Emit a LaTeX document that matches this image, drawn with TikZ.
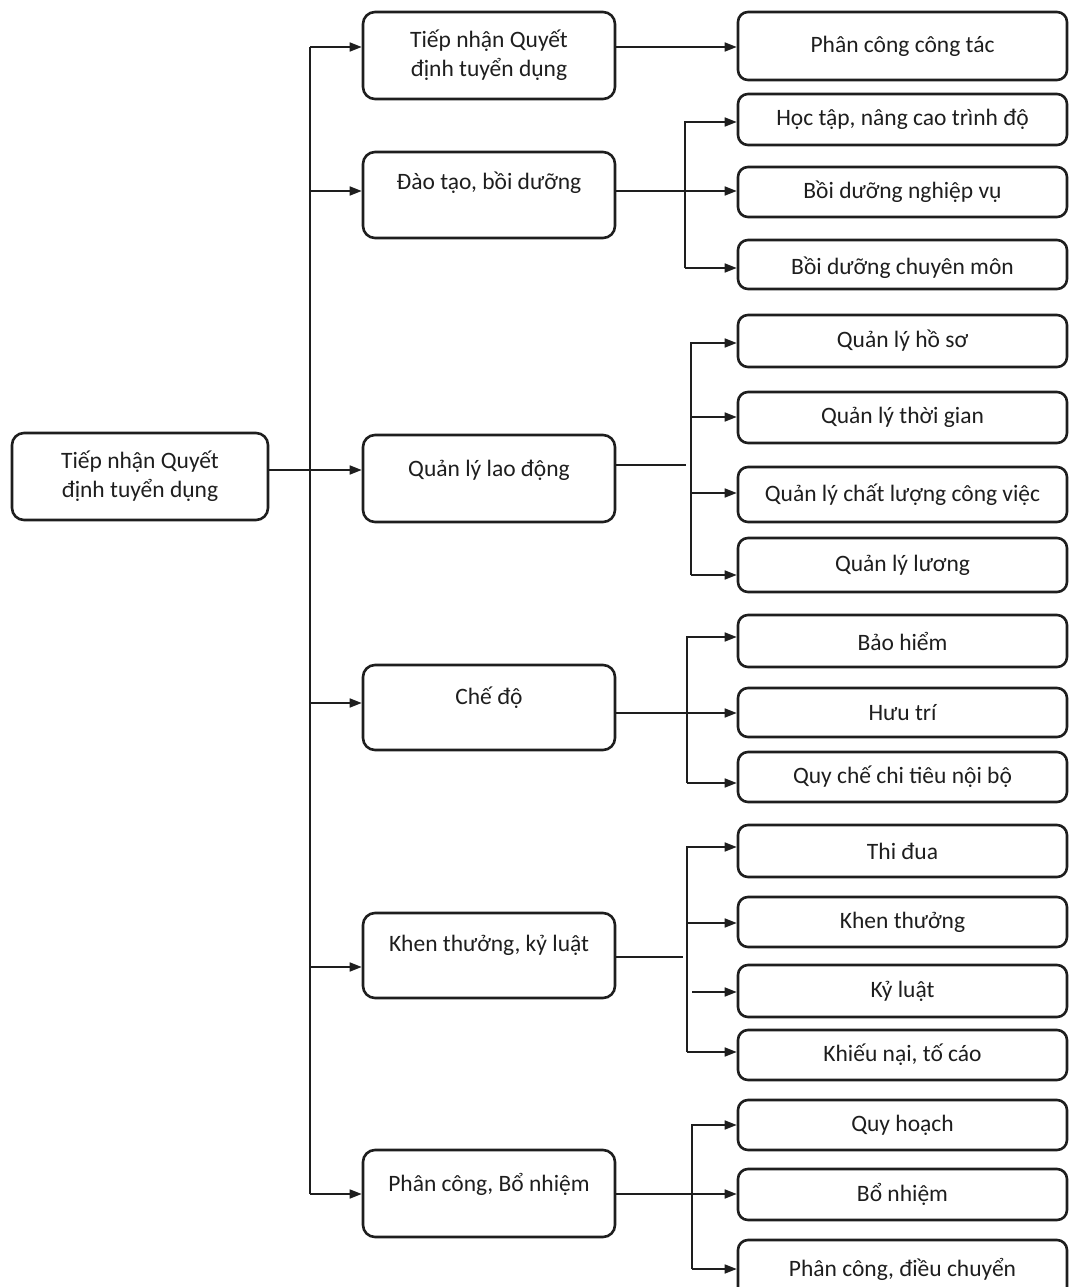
\documentclass[tikz,border=0pt]{standalone}
\usepackage{fontspec}
\setmainfont{Carlito}
\usetikzlibrary{arrows.meta}
\definecolor{ink}{HTML}{1E1E1E}
\newcommand\bigfs{\fontsize{23.5}{29}\selectfont}
\begin{document}
\begin{tikzpicture}[x=1pt,y=-1pt,
  basebox/.style={draw=ink, line width=2.6pt, fill=white, inner sep=0pt, align=center, font=\bigfs, text=ink},
  mbox/.style={basebox, rounded corners=12pt, minimum width=252pt, minimum height=86pt},
  rbox/.style={basebox, rounded corners=10pt, minimum width=329pt},
  lbl/.style={font=\bigfs, text=ink, inner sep=0pt},
  conn/.style={draw=ink, line width=1.6pt},
  arr/.style={conn, -{Triangle[length=12pt,width=9pt]}}]
\useasboundingbox (0,0) rectangle (1070,1287);
\clip (0,0) rectangle (1070,1287);

% left
\node[mbox, minimum width=256pt, minimum height=87pt] (L) at (140,476.5) {Tiếp nhận Quyết\\định tuyển dụng};

% middle column
\node[mbox, minimum height=87pt] (M1) at (489,55.5) {Tiếp nhận Quyết\\định tuyển dụng};
\node[mbox, label={[lbl,yshift=12pt]center:{Đào tạo, bồi dưỡng}}] (M2) at (489,195) {};
\node[mbox, minimum height=87pt, label={[lbl,yshift=8.5pt]center:{Quản lý lao động}}] (M3) at (489,478.5) {};
\node[mbox, minimum height=85pt, label={[lbl,yshift=9.5pt]center:{Chế độ}}] (M4) at (489,707.5) {};
\node[mbox, minimum height=85pt, label={[lbl,yshift=10.5pt]center:{Khen thưởng, kỷ luật}}] (M5) at (489,955.5) {};
\node[mbox, minimum height=87pt, label={[lbl,yshift=9.5pt]center:{Phân công, Bổ nhiệm}}] (M6) at (489,1193.5) {};

% right column
\node[rbox, minimum height=68pt] (R1) at (902.5,46) {Phân công công tác};
\node[rbox, minimum height=51pt] (R2) at (902.5,119.5) {Học tập, nâng cao trình độ};
\node[rbox, minimum height=50pt] (R3) at (902.5,192) {Bồi dưỡng nghiệp vụ};
\node[rbox, minimum height=49pt, label={[lbl,yshift=-3.5pt]center:{Bồi dưỡng chuyên môn}}] (R4) at (902.5,264.5) {};
\node[rbox, minimum height=52pt] (R5) at (902.5,341) {Quản lý hồ sơ};
\node[rbox, minimum height=51pt] (R6) at (902.5,417.5) {Quản lý thời gian};
\node[rbox, minimum height=55pt] (R7) at (902.5,494.5) {Quản lý chất lượng công việc};
\node[rbox, minimum height=54pt] (R8) at (902.5,565) {Quản lý lương};
\node[rbox, minimum height=52pt] (R9) at (902.5,641) {Bảo hiểm};
\node[rbox, minimum height=49pt] (R10) at (902.5,712.5) {Hưu trí};
\node[rbox, minimum height=50pt] (R11) at (902.5,777) {Quy chế chi tiêu nội bộ};
\node[rbox, minimum height=52pt] (R12) at (902.5,851) {Thi đua};
\node[rbox, minimum height=50pt] (R13) at (902.5,922) {Khen thưởng};
\node[rbox, minimum height=52pt] (R14) at (902.5,991) {Kỷ luật};
\node[rbox, minimum height=50pt] (R15) at (902.5,1055) {Khiếu nại, tố cáo};
\node[rbox, minimum height=50pt] (R16) at (902.5,1125) {Quy hoạch};
\node[rbox, minimum height=51pt] (R17) at (902.5,1194.5) {Bổ nhiệm};
\node[rbox, minimum height=60pt, label={[lbl,yshift=1pt]center:{Phân công, điều chuyển}}] (R18) at (902.5,1270) {};

% trunk
\coordinate (j1) at (310,47);
\coordinate (j2) at (310,191);
\coordinate (c3) at (310,470);
\coordinate (j4) at (310,703);
\coordinate (j5) at (310,967);
\coordinate (j6) at (310,1194);
\draw[conn] (j1) -- (j6);
\draw[arr] (j1) -- (M1.west |- j1);
\draw[arr] (j2) -- (M2.west |- j2);
\draw[arr] (L.east |- c3) -- (M3.west |- c3);
\draw[arr] (j4) -- (M4.west |- j4);
\draw[arr] (j5) -- (M5.west |- j5);
\draw[arr] (j6) -- (M6.west |- j6);

% branch 1
\coordinate (b1) at (700,47);
\draw[arr] (M1.east |- b1) -- (R1.west |- b1);

% branch 2
\coordinate (b2a) at (685,122);
\coordinate (b2m) at (685,191);
\coordinate (b2b) at (685,268);
\draw[arr] (M2.east |- b2m) -- (R3.west |- b2m);
\draw[arr] (b2b) -- (b2a) -- (R2.west |- b2a);
\draw[arr] (b2b) -- (R4.west |- b2b);

% branch 3
\coordinate (b3e) at (686,465);
\coordinate (b3a) at (691,343);
\coordinate (b3b) at (691,417);
\coordinate (b3c) at (691,493);
\coordinate (b3d) at (691,575);
\draw[conn] (M3.east |- b3e) -- (b3e);
\draw[arr] (b3d) -- (b3a) -- (R5.west |- b3a);
\draw[arr] (b3b) -- (R6.west |- b3b);
\draw[arr] (b3c) -- (R7.west |- b3c);
\draw[arr] (b3d) -- (R8.west |- b3d);

% branch 4
\coordinate (b4m) at (687,713);
\coordinate (b4a) at (687,637);
\coordinate (b4b) at (687,783);
\draw[arr] (M4.east |- b4m) -- (R10.west |- b4m);
\draw[arr] (b4b) -- (b4a) -- (R9.west |- b4a);
\draw[arr] (b4b) -- (R11.west |- b4b);

% branch 5
\coordinate (b5e) at (683,957);
\coordinate (b5a) at (687,847);
\coordinate (b5b) at (687,923);
\coordinate (b5c) at (692,992);
\coordinate (b5d) at (687,1052);
\draw[conn] (M5.east |- b5e) -- (b5e);
\draw[arr] (b5d) -- (b5a) -- (R12.west |- b5a);
\draw[arr] (b5b) -- (R13.west |- b5b);
\draw[arr] (b5c) -- (R14.west |- b5c);
\draw[arr] (b5d) -- (R15.west |- b5d);

% branch 6
\coordinate (b6m) at (692,1194);
\coordinate (b6a) at (692,1125);
\coordinate (b6b) at (692,1269);
\draw[arr] (M6.east |- b6m) -- (R17.west |- b6m);
\draw[arr] (b6b) -- (b6a) -- (R16.west |- b6a);
\draw[arr] (b6b) -- (R18.west |- b6b);
\end{tikzpicture}
\end{document}
